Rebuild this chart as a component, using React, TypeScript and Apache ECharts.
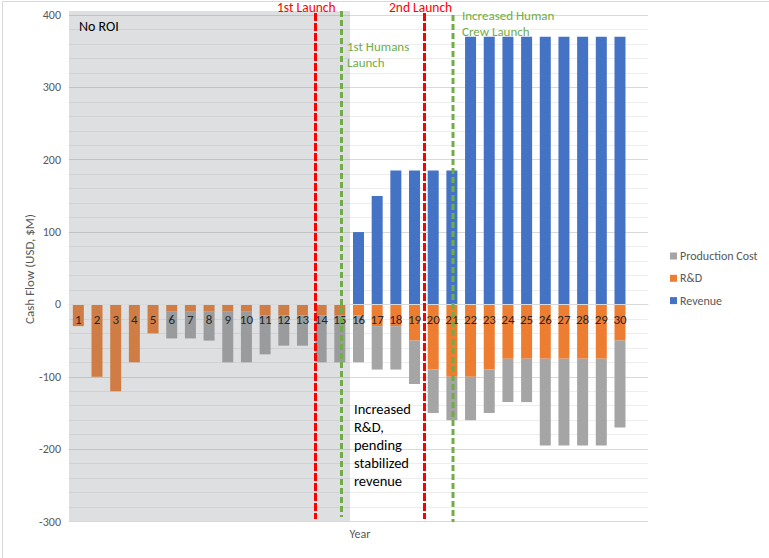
import React, { useEffect, useRef } from "react";
import * as echarts from "echarts";

const categories = ["1","2","3","4","5","6","7","8","9","10","11","12","13","14","15","16","17","18","19","20","21","22","23","24","25","26","27","28","29","30",""];
const revenue = [0,0,0,0,0,0,0,0,0,0,0,0,0,0,0,100,150,185,185,185,185,370,370,370,370,370,370,370,370,370];
const rnd = [-30,-100,-120,-80,-40,-10,-10,-10,-10,-10,-15,-15,-15,-15,-15,-15,-30,-30,-50,-90,-100,-100,-90,-75,-75,-75,-75,-75,-75,-50];
const production = [0,0,0,0,0,-37,-37,-40,-70,-70,-54,-42,-42,-65,-65,-65,-60,-60,-60,-60,-60,-60,-60,-60,-60,-120,-120,-120,-120,-120];
const yTicks = { min: -300, max: 400, interval: 100 };

const FONT = "Carlito, Lato, 'Open Sans', sans-serif";
const W = 769;
const H = 558;
const GRID = { left: 69, right: 121, top: 15, bottom: 36.5 };

export default function App() {
  const ref = useRef<HTMLDivElement>(null);
  useEffect(() => {
    const chart = echarts.init(ref.current!, null, { renderer: "svg" });
    const plotH = H - GRID.top - GRID.bottom;
    // move the category axis up to the zero line
    const zeroOffset = -(plotH * (0 - yTicks.min)) / (yTicks.max - yTicks.min);
    chart.setOption({
      animation: false,
      backgroundColor: "#ffffff",
      textStyle: { fontFamily: FONT },
      grid: { ...GRID, containLabel: false },
      legend: {
        orient: "vertical",
        left: 665,
        top: 245,
        itemWidth: 7,
        itemHeight: 7,
        itemGap: 10.3,
        icon: "rect",
        data: ["Production Cost", "R&D", "Revenue"],
        textStyle: { color: "#595959", fontSize: 12, fontFamily: FONT, padding: [0, 0, 0, -2] },
      },
      xAxis: {
        type: "category",
        data: categories,
        z: 10,
        position: "bottom",
        offset: zeroOffset,
        axisLine: { show: true, onZero: false, lineStyle: { color: "#D9D9D9" } },
        axisTick: { show: false },
        axisLabel: { interval: 0, color: "#262626", fontSize: 13, margin: 9, fontFamily: FONT },
        splitLine: { show: false },
      },
      yAxis: {
        type: "value",
        min: yTicks.min,
        max: yTicks.max,
        interval: yTicks.interval,
        axisLine: { show: false },
        axisTick: { show: false },
        axisLabel: { color: "#595959", fontSize: 12, margin: 8, fontFamily: FONT },
        splitLine: { show: true, lineStyle: { color: "#D9D9D9", width: 1 } },
        minorTick: { show: false, splitNumber: 5 },
        minorSplitLine: { show: true, lineStyle: { color: "#EDEDED", width: 1 } },
      },
      series: [
        { name: "R&D", type: "bar", stack: "cf", data: rnd, barWidth: 11, itemStyle: { color: "#ED7D31" } },
        { name: "Production Cost", type: "bar", stack: "cf", data: production, barWidth: 11, itemStyle: { color: "#A5A5A5" } },
        { name: "Revenue", type: "bar", stack: "cf", data: revenue, barWidth: 11, itemStyle: { color: "#4472C4" } },
      ],
      graphic: [
        { type: "rect", z: 1, silent: true, shape: { x: 2.5, y: 1.5, width: 900, height: 900 }, style: { fill: "none", stroke: "#D9D9D9", lineWidth: 1 } },
        { type: "rect", z: 5, silent: true, shape: { x: 69, y: 11, width: 281, height: 510 }, style: { fill: "rgba(118,128,133,0.25)" } },
        { type: "text", z: 30, x: 29, y: 269, rotation: Math.PI / 2, style: { text: "Cash Flow (USD, $M)", fill: "#595959", fontSize: 13, fontFamily: FONT, align: "center", verticalAlign: "middle" } },
        { type: "text", z: 30, x: 79, y: 26, style: { text: "No ROI", fill: "#000000", fontSize: 14, fontFamily: FONT, verticalAlign: "middle" } },
        { type: "line", z: 30, shape: { x1: 315.5, y1: 13, x2: 315.5, y2: 519 }, style: { stroke: "#FF0000", lineWidth: 3, lineDash: [8, 2] } },
        { type: "line", z: 30, shape: { x1: 341.5, y1: 11, x2: 341.5, y2: 517 }, style: { stroke: "#70AD47", lineWidth: 3, lineDash: [6, 3] } },
        { type: "line", z: 30, shape: { x1: 424.5, y1: 13, x2: 424.5, y2: 519 }, style: { stroke: "#FF0000", lineWidth: 3, lineDash: [8, 2] } },
        { type: "line", z: 30, shape: { x1: 453, y1: 15, x2: 453, y2: 522 }, style: { stroke: "#70AD47", lineWidth: 3, lineDash: [6, 3] } },
        { type: "text", z: 30, x: 277, y: 7, style: { text: "1st Launch", fill: "#FF0000", fontSize: 13.5, fontFamily: FONT, verticalAlign: "middle" } },
        { type: "text", z: 30, x: 389, y: 7, style: { text: "2nd Launch", fill: "#FF0000", fontSize: 13.5, fontFamily: FONT, verticalAlign: "middle" } },
        { type: "text", z: 30, x: 347, y: 38, style: { text: "1st Humans\nLaunch", fill: "#70AD47", fontSize: 13, lineHeight: 16, fontFamily: FONT, verticalAlign: "top" } },
        { type: "text", z: 30, x: 462, y: 7, style: { text: "Increased Human\nCrew Launch", fill: "#70AD47", fontSize: 13, lineHeight: 16, fontFamily: FONT, verticalAlign: "top" } },
        { type: "text", z: 30, x: 354, y: 400, style: { text: "Increased\nR&D,\npending\nstabilized\nrevenue", fill: "#000000", fontSize: 14.5, lineHeight: 18, fontFamily: FONT, verticalAlign: "top" } },
        { type: "text", z: 30, x: 360, y: 534, style: { text: "Year", fill: "#595959", fontSize: 12, fontFamily: FONT, align: "center", verticalAlign: "middle" } },
      ],
    });
    return () => chart.dispose();
  }, []);
  return <div ref={ref} style={{ position: "fixed", left: 0, top: 0, width: W, height: H }} />;
}
